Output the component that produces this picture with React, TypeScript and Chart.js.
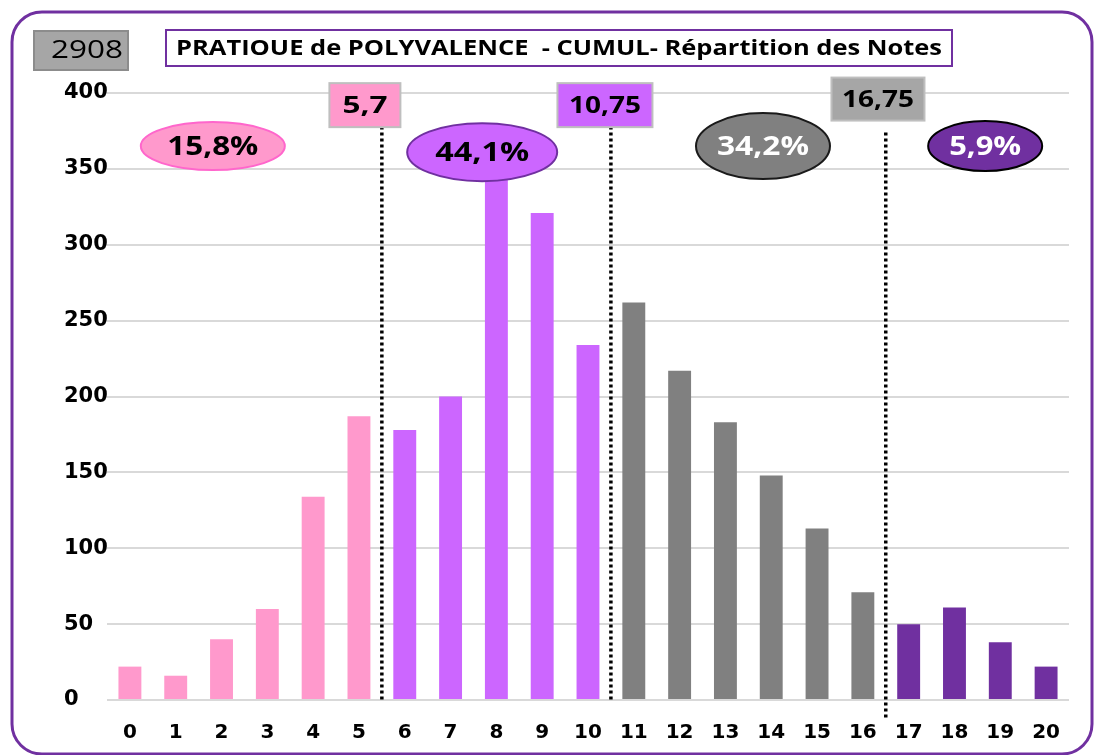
import React, { useEffect, useRef } from "react";
import { Chart, registerables } from "chart.js";

Chart.register(...registerables);

// ---- data ----
const categories = ["0","1","2","3","4","5","6","7","8","9","10","11","12","13","14","15","16","17","18","19","20"];
const counts = [22, 16, 40, 60, 134, 187, 178, 200, 350, 321, 234, 262, 217, 183, 148, 113, 71, 50, 61, 38, 22];
const groupLastIndex = [5, 10, 16, 20];
const groupColors = ["#FF99CC", "#CC66FF", "#808080", "#7030A0"];
const groupShares = ["15,8%", "44,1%", "34,2%", "5,9%"];
const separatorValues = [5.5, 10.5, 16.5];
const separatorLabels = ["5,7", "10,75", "16,75"];
const yTicks = [0, 50, 100, 150, 200, 250, 300, 350, 400];
const totalCount = "2908";
const titleText = "PRATIOUE de POLYVALENCE  - CUMUL- Répartition des Notes";

// ---- annotation placement (data coordinates) & styles ----
const ellipseStyle = [
  { x: 1.81, y: 365, rx: 72, ry: 24, fill: "#FF99CC", stroke: "#FF66CC", text: "#000000", w: 91 },
  { x: 7.69, y: 361, rx: 75, ry: 29, fill: "#CC66FF", stroke: "#7030A0", text: "#000000", w: 94 },
  { x: 13.82, y: 365, rx: 67, ry: 33, fill: "#808080", stroke: "#1a1a1a", text: "#FFFFFF", w: 92 },
  { x: 18.67, y: 365, rx: 57, ry: 25, fill: "#7030A0", stroke: "#000000", text: "#FFFFFF", w: 72 },
];
const boxStyle = [
  { x: 5.13, y: 392, w: 71, h: 44, fill: "#FF99CC", tw: 45 },
  { x: 10.37, y: 392, w: 95, h: 44, fill: "#CC66FF", tw: 72 },
  { x: 16.33, y: 396, w: 93, h: 43, fill: "#A6A6A6", tw: 72 },
];
const sepStyle = [
  { top: 378, bottom: 0 },
  { top: 378, bottom: 0 },
  { top: 374, bottom: -12 },
];

function barColor(i: number) {
  for (let g = 0; g < groupLastIndex.length; g++) if (i <= groupLastIndex[g]) return groupColors[g];
  return groupColors[groupColors.length - 1];
}

function drawText(ctx: CanvasRenderingContext2D, text: string, cx: number, cy: number, font: string, color: string, width?: number) {
  ctx.save();
  ctx.font = font;
  const m = ctx.measureText(text).width;
  const sx = width ? width / m : 1;
  ctx.translate(cx, cy);
  ctx.scale(sx, 1);
  ctx.fillStyle = color;
  ctx.textAlign = "center";
  ctx.textBaseline = "middle";
  ctx.fillText(text, 0, 1);
  ctx.restore();
}

const overlayPlugin = {
  id: "overlay",
  afterDatasetsDraw(chart: any) {
    const ctx: CanvasRenderingContext2D = chart.ctx;
    const xs = chart.scales.x;
    const ys = chart.scales.y;

    separatorValues.forEach((v, i) => {
      const px = xs.getPixelForValue(v);
      ctx.save();
      ctx.strokeStyle = "#000";
      ctx.lineWidth = 3.5;
      ctx.setLineDash([3, 3]);
      ctx.beginPath();
      ctx.moveTo(px, ys.getPixelForValue(sepStyle[i].top));
      ctx.lineTo(px, ys.getPixelForValue(sepStyle[i].bottom));
      ctx.stroke();
      ctx.restore();
    });

    separatorLabels.forEach((t, i) => {
      const b = boxStyle[i];
      const cx = xs.getPixelForValue(b.x);
      const cy = ys.getPixelForValue(b.y);
      ctx.save();
      ctx.fillStyle = b.fill;
      ctx.strokeStyle = "#BFBFBF";
      ctx.lineWidth = 2;
      ctx.fillRect(cx - b.w / 2, cy - b.h / 2, b.w, b.h);
      ctx.strokeRect(cx - b.w / 2, cy - b.h / 2, b.w, b.h);
      ctx.restore();
      drawText(ctx, t, cx, cy, "bold 23px 'Open Sans'", "#000", b.tw);
    });

    groupShares.forEach((t, i) => {
      const e = ellipseStyle[i];
      const cx = xs.getPixelForValue(e.x);
      const cy = ys.getPixelForValue(e.y);
      ctx.save();
      ctx.beginPath();
      ctx.ellipse(cx, cy, e.rx, e.ry, 0, 0, Math.PI * 2);
      ctx.fillStyle = e.fill;
      ctx.fill();
      ctx.strokeStyle = e.stroke;
      ctx.lineWidth = 2;
      ctx.stroke();
      ctx.restore();
      drawText(ctx, t, cx, cy, "bold 27px 'Open Sans'", e.text, e.w);
    });
  },
  afterDraw(chart: any) {
    const ctx: CanvasRenderingContext2D = chart.ctx;
    ctx.save();
    ctx.strokeStyle = "#7030A0";
    ctx.lineWidth = 3;
    ctx.beginPath();
    ctx.roundRect(12, 12, 1080, 742, 30);
    ctx.stroke();
    ctx.restore();

    ctx.save();
    ctx.fillStyle = "#A6A6A6";
    ctx.strokeStyle = "#8C8C8C";
    ctx.lineWidth = 2;
    ctx.fillRect(34, 31, 94, 39);
    ctx.strokeRect(34, 31, 94, 39);
    ctx.restore();
    drawText(ctx, totalCount, 87, 50, "25px 'Open Sans'", "#000", 72);

    ctx.save();
    ctx.fillStyle = "#FFFFFF";
    ctx.strokeStyle = "#7030A0";
    ctx.lineWidth = 2;
    ctx.fillRect(166, 30, 786, 36);
    ctx.strokeRect(166, 30, 786, 36);
    ctx.restore();
    drawText(ctx, titleText, 559, 48, "bold 21px 'Open Sans'", "#000", 766);
  },
};

export default function App() {
  const ref = useRef<HTMLCanvasElement | null>(null);
  useEffect(() => {
    if (!ref.current) return;
    const chart = new Chart(ref.current, {
      type: "bar",
      data: {
        labels: categories,
        datasets: [
          {
            data: counts,
            backgroundColor: counts.map((_, i) => barColor(i)),
            barPercentage: 0.5,
            categoryPercentage: 1,
          },
        ],
      },
      options: {
        animation: false,
        responsive: false,
        maintainAspectRatio: false,
        layout: { padding: { left: 64, right: 25, top: 93, bottom: 0 } },
        plugins: { legend: { display: false }, tooltip: { enabled: false }, title: { display: false } },
        scales: {
          x: {
            grid: { display: false, drawTicks: false },
            border: { display: false },
            ticks: {
              color: "#000",
              font: { family: "'DejaVu Sans'", size: 20, weight: "bold" },
              padding: 21,
              autoSkip: false,
              maxRotation: 0,
            },
            afterFit: (s: any) => { s.height = 55; },
          },
          y: {
            min: 0,
            max: 400,
            afterBuildTicks: (s: any) => { s.ticks = yTicks.map((v) => ({ value: v })); },
            grid: { color: "#D9D9D9", lineWidth: 2, drawTicks: false },
            border: { display: false },
            ticks: {
              color: "#000",
              font: { family: "'DejaVu Sans'", size: 21, weight: "bold" },
              crossAlign: "far",
              padding: 0,
            },
            afterFit: (s: any) => { s.width = 43; },
          },
        },
      },
      plugins: [overlayPlugin],
    });
    return () => chart.destroy();
  }, []);
  return (
    <div style={{ position: "fixed", left: 0, top: 0, width: 1094, height: 755, background: "#fff" }}>
      <canvas ref={ref} width={1094} height={755} style={{ width: 1094, height: 755, display: "block" }} />
    </div>
  );
}
